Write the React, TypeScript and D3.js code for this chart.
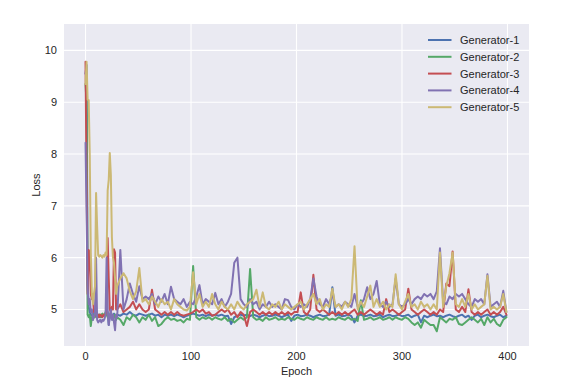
import { useEffect, useRef } from "react";
import * as d3 from "d3";

// epochs sampled: every epoch at the start, then every 3rd
const epochs = [...d3.range(0, 30), ...d3.range(30, 400, 3)];

const seriesNames = ["Generator-1", "Generator-2", "Generator-3", "Generator-4", "Generator-5"];
const colors = ["#4C72B0", "#55A868", "#C44E52", "#8172B2", "#CCB974"];
const xTicks = [0, 100, 200, 300, 400];
const yTicks = [5, 6, 7, 8, 9, 10];

const gen1 = [
  9.55, 9.72, 5.5, 5.05, 4.95, 4.9, 4.88, 4.92, 4.9, 4.88,
  4.9, 4.88, 4.85, 4.9, 4.88, 4.85, 4.9, 4.88, 4.9, 4.92,
  4.9, 4.95, 4.7, 4.9, 4.92, 4.88, 4.9, 4.92, 4.88, 4.9,
  4.9, 4.88, 4.92, 4.9, 4.95, 4.9, 4.88, 4.92, 4.9, 4.88,
  4.9, 4.92, 4.88, 4.9, 4.85, 4.9, 4.88, 4.9, 4.87, 4.9,
  4.88, 4.85, 4.88, 4.9, 4.92, 4.9, 4.88, 4.9, 4.87, 4.9,
  4.88, 4.9, 4.88, 4.9, 4.87, 4.88, 4.72, 4.85, 4.88, 4.9,
  4.88, 4.9, 4.87, 4.9, 4.88, 4.85, 4.88, 4.9, 4.87, 4.88,
  4.9, 4.88, 4.85, 4.88, 4.9, 4.78, 4.88, 4.9, 4.87, 4.88,
  4.9, 4.88, 4.85, 4.88, 4.9, 4.87, 4.88, 4.9, 5.43, 4.88,
  4.9, 4.87, 4.88, 4.9, 4.87, 4.75, 4.88, 4.9, 4.87, 4.88,
  4.9, 4.87, 4.88, 4.9, 4.85, 4.88, 4.9, 4.87, 4.88, 4.9,
  4.87, 4.88, 4.9, 4.85, 4.88, 4.9, 4.75, 4.88, 4.85, 4.88,
  4.9, 4.87, 4.88, 4.85, 4.88, 4.9, 4.87, 4.85, 4.88, 4.9,
  4.85, 4.88, 4.8, 4.88, 4.9, 4.85, 4.88, 4.9, 4.87, 4.85,
  4.88, 4.9, 4.85, 4.88,
];

const gen2 = [
  9.35, 8.98, 4.9, 4.85, 4.9, 4.68, 4.85, 4.8, 4.9, 4.85,
  4.9, 4.85, 4.88, 4.9, 4.85, 4.9, 4.92, 4.88, 4.9, 4.95,
  4.9, 4.85, 4.9, 4.88, 4.95, 4.85, 4.8, 4.85, 4.9, 4.8,
  4.85, 4.8, 4.7, 4.85, 4.8, 4.9, 4.85, 4.75, 4.85, 4.8,
  4.9, 4.78, 4.85, 4.68, 4.72, 4.8, 4.85, 4.8, 4.82, 4.78,
  4.8, 4.75, 4.82, 4.8, 5.84, 4.85, 4.8, 4.85, 4.82, 4.85,
  4.8, 4.85, 4.82, 4.8, 4.85, 4.78, 4.82, 4.75, 4.8, 4.85,
  4.8, 4.85, 5.78, 4.85, 4.8, 4.82, 4.78, 4.85, 4.8, 4.82,
  4.85, 4.8, 4.82, 4.8, 4.85, 4.82, 4.8, 4.85, 4.82, 4.8,
  4.85, 4.82, 4.8, 4.85, 4.82, 4.8, 4.85, 4.8, 4.82, 4.8,
  4.85, 4.82, 4.8, 4.85, 4.8, 4.82, 4.78, 5.18, 4.8, 4.82,
  4.85, 4.8, 4.82, 4.85, 4.8, 4.82, 4.85, 4.8, 4.85, 4.82,
  4.8, 4.85, 4.82, 4.75, 4.7, 4.75, 4.65, 4.8, 4.75, 4.7,
  4.7, 4.58, 4.85, 4.8, 4.75, 4.82, 4.8, 4.85, 4.72, 4.7,
  4.75, 4.8, 4.85, 4.8, 4.75, 4.82, 4.7, 4.85, 4.75, 4.82,
  4.72, 4.68, 4.8, 4.85,
];

const gen3 = [
  9.78, 7.5, 5.3, 6.15, 6.1, 5.3, 5.2, 5.25, 4.95, 5.0,
  4.9, 4.85, 4.9, 4.85, 4.9, 4.88, 4.85, 4.9, 4.88, 4.9,
  5.0, 6.38, 5.6, 5.0, 4.95, 5.05, 5.0, 6.16, 6.1, 5.0,
  5.0, 5.1, 4.95, 5.0, 5.05, 5.15, 5.0, 5.1, 5.0, 4.95,
  5.0, 5.38, 5.0, 4.95, 4.9, 4.95, 4.9, 4.95, 4.9, 4.95,
  4.9, 4.88, 4.9, 4.92, 4.95, 5.0, 4.95, 5.0, 4.92, 4.95,
  4.88, 4.9, 4.95, 5.0, 4.95, 5.0, 4.9, 4.95, 4.85, 4.95,
  4.9, 4.68, 4.95, 5.0, 4.95, 4.9, 4.95, 4.9, 4.95, 4.9,
  4.95, 4.9, 4.95, 4.9, 4.95, 4.9, 4.95, 4.95, 5.33, 4.95,
  4.9, 5.0, 5.67, 5.0, 4.95, 5.0, 4.95, 4.9, 4.95, 4.9,
  4.95, 4.9, 4.95, 4.9, 4.95, 5.0, 4.9, 4.95, 4.9, 4.95,
  5.0, 4.95, 4.9, 4.95, 4.9, 5.2, 4.95, 5.0, 4.95, 4.9,
  4.95, 5.0, 5.4, 5.0, 4.95, 4.9, 4.95, 5.0, 4.95, 4.9,
  4.95, 4.9, 5.0, 4.95, 5.5, 5.45, 6.12, 5.0, 4.95, 5.05,
  4.95, 5.39, 4.95, 4.9, 4.95, 4.9, 4.95, 5.0, 4.9, 4.95,
  4.9, 4.95, 5.05, 4.9,
];

const gen4 = [
  8.22, 6.86, 5.4, 5.1, 5.2, 4.95, 5.0, 4.8, 4.85, 4.9,
  6.0, 4.8, 4.75, 4.78, 4.8, 4.75, 4.8, 4.78, 4.82, 4.9,
  6.0, 5.0, 4.7, 4.85, 5.0, 4.8, 4.9, 4.75, 4.6, 4.9,
  4.85, 6.15, 5.0, 5.2, 5.5, 5.3, 5.15, 5.45, 5.2, 5.25,
  5.2, 5.3, 5.1, 5.25, 5.15, 5.3, 5.1, 5.44, 5.2, 5.15,
  5.1, 5.2, 5.05, 5.15, 5.1, 5.25, 5.47, 5.1, 5.2, 5.15,
  5.1, 5.32, 5.1, 5.2, 5.05, 5.15, 5.3, 5.9, 6.0, 5.2,
  5.1, 5.05, 5.2, 5.1, 5.15, 5.0, 5.1, 5.05, 5.15, 5.05,
  5.1, 5.05, 5.0, 5.2, 5.18, 5.05, 5.0, 5.1, 5.05, 5.1,
  5.05, 5.2, 5.6, 5.25, 5.1, 5.05, 5.2, 5.1, 5.3, 5.05,
  5.1, 5.05, 5.15, 5.1, 5.05, 5.3, 5.05, 5.1, 5.2, 5.43,
  5.2, 5.3, 5.55, 5.1, 5.05, 5.15, 5.05, 5.1, 5.6, 5.1,
  5.05, 5.1, 5.2, 5.1, 5.2, 5.25, 5.2, 5.3, 5.25, 5.3,
  5.2, 5.35, 6.18, 5.15, 5.1, 5.25, 5.2, 5.3, 5.25, 5.3,
  5.2, 5.1, 5.05, 5.2, 5.15, 5.2, 5.1, 5.68, 5.05, 5.1,
  5.15, 5.05, 5.36, 4.95,
];

const gen5 = [
  9.35, 9.78, 9.05, 9.04, 8.0, 6.1, 5.3, 5.1, 5.3, 5.45,
  7.25, 6.6, 6.05, 6.02, 6.05, 6.03, 6.0, 6.05, 6.02, 6.1,
  6.05, 7.3, 7.5, 8.02, 7.6, 6.4, 6.0, 5.9, 5.6, 5.3,
  5.45, 5.6, 5.7, 5.6, 5.35, 5.2, 5.35, 5.8, 5.15, 5.2,
  5.1, 5.25, 5.15, 5.05, 5.2, 5.1, 5.15, 5.0, 5.2, 5.1,
  5.05, 5.0, 4.98, 5.05, 5.72, 5.1, 5.3, 5.05, 5.15, 5.05,
  5.3, 5.1, 5.0, 5.15, 5.05, 5.0, 5.1, 5.0, 5.15, 5.05,
  5.0, 5.1, 5.15, 5.2, 5.38, 5.05, 5.33, 5.05, 5.0, 5.1,
  5.05, 5.15, 5.0, 5.1, 5.05, 5.0, 5.05, 5.1, 5.15, 5.0,
  5.1, 5.2, 5.3, 5.1, 5.2, 5.0, 5.1, 5.05, 5.4, 5.05,
  5.1, 5.0, 5.15, 5.05, 5.2, 6.22, 5.0, 5.15, 5.05, 5.25,
  5.46, 5.05, 5.2, 5.05, 5.15, 5.0, 5.1, 5.05, 5.68, 5.1,
  5.0, 5.15, 5.3, 5.05, 5.1, 5.0, 5.15, 5.05, 5.1, 5.0,
  5.1, 5.0, 6.1, 5.05, 5.45, 5.7, 6.1, 5.1, 5.05, 5.2,
  5.05, 5.3, 5.0, 5.1, 5.0, 5.05, 5.1, 5.65, 5.0, 5.05,
  5.0, 5.05, 5.3, 4.95,
];

const series = [gen1, gen2, gen3, gen4, gen5];

const LossChart = () => {
  const svgRef = useRef(null);
  const width = 574;
  const height = 378;

  useEffect(() => {
    const margin = { top: 24, right: 45, bottom: 32, left: 64 };
    const innerWidth = width - margin.left - margin.right;
    const innerHeight = height - margin.top - margin.bottom;
    const font = "'Liberation Sans', Arial, sans-serif";
    const textColor = "#262626";

    const svg = d3.select(svgRef.current);
    svg.selectAll("*").remove();

    const g = svg.append("g")
      .attr("transform", `translate(${margin.left},${margin.top})`);

    const xScale = d3.scaleLinear().domain([-20.4, 420.4]).range([0, innerWidth]);
    const yScale = d3.scaleLinear().domain([4.295, 10.51]).range([innerHeight, 0]);

    // background
    g.append("rect")
      .attr("width", innerWidth)
      .attr("height", innerHeight)
      .attr("fill", "#EAEAF2");

    // grid
    g.selectAll(".xgrid").data(xTicks).enter().append("line")
      .attr("x1", d => xScale(d)).attr("x2", d => xScale(d))
      .attr("y1", 0).attr("y2", innerHeight)
      .attr("stroke", "#fff").attr("stroke-width", 1.1);
    g.selectAll(".ygrid").data(yTicks).enter().append("line")
      .attr("x1", 0).attr("x2", innerWidth)
      .attr("y1", d => yScale(d)).attr("y2", d => yScale(d))
      .attr("stroke", "#fff").attr("stroke-width", 1.1);

    // tick labels
    g.selectAll(".xlab").data(xTicks).enter().append("text")
      .attr("x", d => xScale(d))
      .attr("y", innerHeight + 14)
      .attr("text-anchor", "middle")
      .attr("font-family", font).attr("font-size", 11).attr("fill", textColor)
      .text(d => d);
    g.selectAll(".ylab").data(yTicks).enter().append("text")
      .attr("x", -7)
      .attr("y", d => yScale(d) + 4)
      .attr("text-anchor", "end")
      .attr("font-family", font).attr("font-size", 11).attr("fill", textColor)
      .text(d => d);

    // axis labels
    g.append("text")
      .attr("x", innerWidth / 2).attr("y", innerHeight + 29)
      .attr("text-anchor", "middle")
      .attr("font-family", font).attr("font-size", 11).attr("fill", textColor)
      .text("Epoch");
    g.append("text")
      .attr("transform", `translate(-24,${innerHeight / 2}) rotate(-90)`)
      .attr("text-anchor", "middle")
      .attr("font-family", font).attr("font-size", 11).attr("fill", textColor)
      .text("Loss");

    // lines
    svg.append("defs").append("clipPath").attr("id", "plot-clip")
      .append("rect").attr("width", innerWidth).attr("height", innerHeight);

    const line = d3.line()
      .x(d => xScale(d[0]))
      .y(d => yScale(d[1]));

    const lines = g.append("g").attr("clip-path", "url(#plot-clip)");
    series.forEach((vals, i) => {
      const n = Math.min(vals.length, epochs.length);
      const pts = d3.range(n).map(j => [epochs[j], vals[j]]);
      lines.append("path")
        .attr("d", line(pts))
        .attr("fill", "none")
        .attr("stroke", colors[i])
        .attr("stroke-width", 2)
        .attr("stroke-linejoin", "round")
        .attr("stroke-linecap", "round");
    });

    // legend
    const legend = svg.append("g").attr("transform", "translate(428,40)");
    seriesNames.forEach((name, i) => {
      const row = legend.append("g").attr("transform", `translate(0,${i * 16.8})`);
      row.append("line")
        .attr("x1", 0).attr("x2", 23.5)
        .attr("stroke", colors[i]).attr("stroke-width", 2);
      row.append("text")
        .attr("x", 32).attr("y", 4)
        .attr("font-family", font).attr("font-size", 11).attr("fill", textColor)
        .text(name);
    });
  }, [height, width]);

  return (
    <svg
      ref={svgRef}
      width={width}
      height={height}
      style={{ position: "absolute", left: 0, top: 0, background: "#fff" }}
    ></svg>
  );
};

export default function App() {
  return <LossChart />;
}
